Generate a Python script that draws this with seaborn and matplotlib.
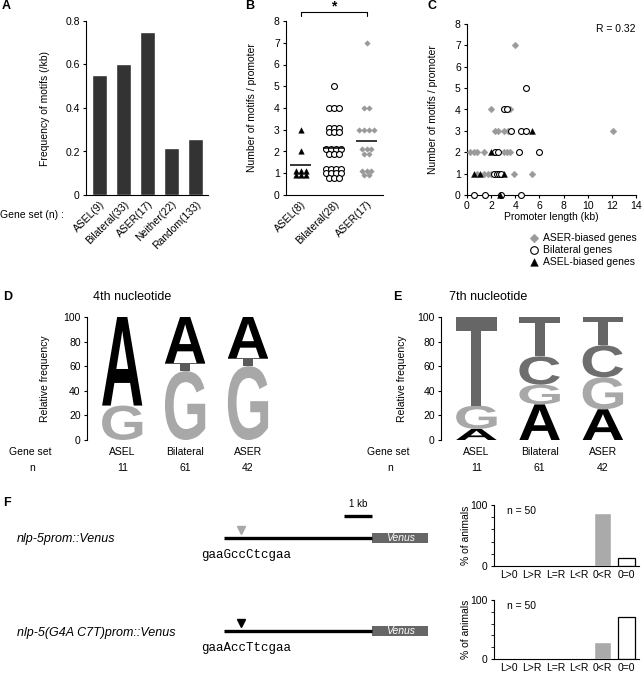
import numpy as np
import pandas as pd
import matplotlib
matplotlib.use("Agg")
import matplotlib.pyplot as plt
import seaborn as sns
from matplotlib.patches import PathPatch, Rectangle
from matplotlib.textpath import TextPath
from matplotlib.font_manager import FontProperties
from matplotlib.transforms import Affine2D, blended_transform_factory

# ---------------- data ----------------
# A: motif frequency per gene set
gene_sets_a = ["ASEL(9)", "Bilateral(33)", "ASER(17)", "Neither(22)", "Random(133)"]
motif_freq = [0.553, 0.603, 0.75, 0.215, 0.258]

# B: motifs per promoter
groups_b = ["ASEL(8)", "Bilateral(28)", "ASER(17)"]
asel_counts = [1, 1, 1, 1, 1, 1, 2, 3]
bilateral_counts = [1, 1, 1, 1, 1, 1, 1, 1, 1, 1, 1, 2, 2, 2, 2, 2, 2, 2,
                    3, 3, 3, 3, 3, 3, 4, 4, 4, 5]
aser_counts = [1, 1, 1, 1, 1, 2, 2, 2, 2, 2, 3, 3, 3, 3, 4, 4, 7]

# C: promoter length (kb) vs motifs
aser_len = [4.0, 2.0, 3.6, 2.35, 2.55, 3.1, 3.4, 12.1, 0.25, 0.55, 0.8, 1.4,
            3.05, 3.3, 3.6, 0.8, 1.4, 1.75, 2.0, 3.9, 5.4]
aser_n = [7, 4, 4, 3, 3, 3, 3, 3, 2, 2, 2, 2, 2, 2, 2, 1, 1, 1, 1, 1, 1]
bil_len = [4.85, 3.05, 3.35, 3.65, 4.45, 4.9, 2.3, 2.6, 4.3, 6.0, 2.2, 2.45,
           2.65, 2.85, 0.55, 1.5, 2.85, 4.5]
bil_n = [5, 4, 4, 3, 3, 3, 2, 2, 2, 2, 1, 1, 1, 1, 0, 0, 0, 0]
asel_len = [5.4, 2.0, 0.55, 1.1, 3.05, 2.7]
asel_n = [3, 2, 1, 1, 1, 0]

# D / E: sequence logos (relative frequency, stacked bottom -> top)
logo_sets = ["ASEL", "Bilateral", "ASER"]
logo_n = [11, 61, 42]
d_G = [28, 56, 60]
d_T = [0, 6.5, 6.5]
d_A = [72, 37.5, 33.5]
e_A = [9, 29, 25]
e_G = [19, 16, 26]
e_C = [0, 23, 26]
e_T = [72, 32, 23]

# F: reporter constructs and expression
f_categories = ["L>0", "L>R", "L=R", "L<R", "0<R", "0=0"]
wt_pct = [0, 0, 0, 0, 87, 13]
mut_pct = [0, 0, 0, 0, 28, 72]
promoter_kb = 5.3
venus_kb = 2.0
motif_pos_kb = 0.6
scale_kb = 1.0

# ---------------- style ----------------
sns.set_theme(style="ticks")
plt.rcParams["font.family"] = ["Liberation Sans", "DejaVu Sans"]
plt.rcParams.update({
    "font.size": 7.5, "axes.labelsize": 7.5, "xtick.labelsize": 7.5,
    "ytick.labelsize": 7.5, "axes.linewidth": 0.8, "axes.edgecolor": "black",
    "xtick.major.size": 2.5, "ytick.major.size": 2.5,
    "xtick.major.width": 0.8, "ytick.major.width": 0.8,
    "xtick.major.pad": 2, "ytick.major.pad": 2,
    "text.color": "black", "axes.labelcolor": "black",
    "xtick.color": "black", "ytick.color": "black",
})

W, H = 642, 677
fig = plt.figure(figsize=(W / 100, H / 100), dpi=100)


def add_ax(x0, y0, x1, y1):
    ax = fig.add_axes([x0 / W, 1 - y1 / H, (x1 - x0) / W, (y1 - y0) / H])
    ax.px = (x0, y0, x1, y1)
    return ax


def ylabel_at(ax, text, px_right):
    x0, y0, x1, y1 = ax.px
    ax.set_ylabel(text)
    ax.yaxis.set_label_coords((px_right - x0) / (x1 - x0), 0.5)


def fig_text(x, y, s, **kw):
    fig.text(x / W, 1 - y / H, s, **kw)


def stack_offsets(values, per_row=4, dx=0.15, dy=0.2):
    values = np.asarray(values)
    xo = np.zeros(len(values))
    yo = np.zeros(len(values))
    for v in np.unique(values):
        idx = np.where(values == v)[0]
        k = len(idx)
        rows = int(np.ceil(k / per_row))
        width = int(np.ceil(k / rows))
        for j, i in enumerate(idx):
            r, c = divmod(j, width)
            m = min(width, k - r * width)
            xo[i] = (c - (m - 1) / 2) * dx
            yo[i] = ((rows - 1) / 2 - r) * dy
    return xo, yo


logo_font = FontProperties(family="Liberation Sans", weight="bold")


def draw_letter(ax, letter, x, y0, w, h, color):
    tp = TextPath((0, 0), letter, size=1, prop=logo_font)
    bb = tp.get_extents()
    tr = (Affine2D().translate(-bb.x0, -bb.y0)
          .scale(w / bb.width, h / bb.height)
          .translate(x - w / 2, y0))
    ax.add_patch(PathPatch(tr.transform_path(tp), color=color, lw=0))


def draw_logo(ax, stacks, width=0.64):
    bottoms = np.zeros(len(stacks[0][1]))
    for letter, heights, color in stacks:
        for i, h in enumerate(heights):
            if h > 0:
                draw_letter(ax, letter, i, bottoms[i], width, h, color)
        bottoms += np.asarray(heights, dtype=float)


# ---------------- A ----------------
ax_a = add_ax(86, 21, 208, 195)
df_a = pd.DataFrame({"set": gene_sets_a, "freq": motif_freq})
sns.barplot(df_a, x="set", y="freq", color="#333333", saturation=1,
            width=0.62, ax=ax_a)
ax_a.set_xlim(-0.56, 4.52)
ax_a.set_ylim(0, 0.8)
ax_a.set_yticks([0, 0.2, 0.4, 0.6, 0.8])
ax_a.set_yticklabels(["0", "0.2", "0.4", "0.6", "0.8"])
ax_a.tick_params(axis="x", length=0, pad=3)
plt.setp(ax_a.get_xticklabels(), rotation=45, ha="right", rotation_mode="anchor")
ax_a.set_xlabel("")
ylabel_at(ax_a, "Frequency of motifs (/kb)", 50)
sns.despine(ax=ax_a)
fig_text(0, 215, "Gene set (n) :", va="center", ha="left")

# ---------------- B ----------------
ax_b = add_ax(286, 21, 383, 195)
b_specs = [
    (asel_counts, dict(marker="^", color="black", edgecolor="black", s=16, linewidth=0.3)),
    (bilateral_counts, dict(marker="o", color="white", edgecolor="black", s=18, linewidth=0.8)),
    (aser_counts, dict(marker="D", color="#9a9a9a", edgecolor="#9a9a9a", s=8, linewidth=0.3)),
]
for i, (vals, kw) in enumerate(b_specs):
    xo, yo = stack_offsets(vals)
    sns.scatterplot(x=i + xo, y=np.asarray(vals) + yo, ax=ax_b, clip_on=False,
                    zorder=3, **kw)
    ax_b.hlines(np.mean(vals), i - 0.32, i + 0.32, color="black", lw=1.1, zorder=4)
ax_b.set_xlim(-0.45, 2.5)
ax_b.set_ylim(0, 8)
ax_b.set_yticks(range(0, 9))
ax_b.set_xticks(range(3))
ax_b.set_xticklabels(groups_b, rotation=45, ha="right", rotation_mode="anchor")
ax_b.tick_params(axis="x", length=0, pad=3)
ylabel_at(ax_b, "Number of motifs / promoter", 257)
sns.despine(ax=ax_b)
ax_b.plot([0, 0, 2, 2], [8.23, 8.41, 8.41, 8.23], color="black", lw=0.8, clip_on=False)
ax_b.text(1, 8.66, "*", ha="center", va="center", fontsize=10, fontweight="bold")

# ---------------- C ----------------
ax_c = add_ax(467, 24, 636, 195)
sns.scatterplot(x=aser_len, y=aser_n, marker="D", color="#9a9a9a", edgecolor="#9a9a9a",
                s=12, linewidth=0.3, ax=ax_c, clip_on=False, zorder=3,
                label="ASER-biased genes")
sns.scatterplot(x=bil_len, y=bil_n, marker="o", color="white", edgecolor="black",
                s=18, linewidth=0.8, ax=ax_c, clip_on=False, zorder=3,
                label="Bilateral genes")
sns.scatterplot(x=asel_len, y=asel_n, marker="^", color="black", edgecolor="black",
                s=18, linewidth=0.3, ax=ax_c, clip_on=False, zorder=3,
                label="ASEL-biased genes")
handles, labels = ax_c.get_legend_handles_labels()
ax_c.get_legend().remove()
ax_c.set_xlim(0, 14)
ax_c.set_ylim(0, 8)
ax_c.set_xticks(range(0, 15, 2))
ax_c.set_yticks(range(0, 9))
ax_c.set_xlabel("Promoter length (kb)")
ax_c.xaxis.set_label_coords(0.5, (195 - 212) / 171)
ylabel_at(ax_c, "Number of motifs / promoter", 438)
sns.despine(ax=ax_c)
ax_c.text(1.0, 1.0, "R = 0.32", transform=ax_c.transAxes, ha="right", va="top")
fig.legend(handles, labels, loc="upper left", bbox_to_anchor=(529 / W, 1 - 233 / H),
           frameon=False, handletextpad=0.3, labelspacing=0.2, borderpad=0,
           borderaxespad=0, handlelength=1.0, markerscale=1.3, fontsize=7.5)

# ---------------- D / E ----------------
def logo_axes(ax, title_x, title, stacks, ylab_right, gs_x, n_x):
    draw_logo(ax, stacks)
    ax.set_xlim(-0.56, 2.35)
    ax.set_ylim(0, 100)
    ax.set_yticks(range(0, 101, 20))
    ax.set_xticks([])
    sns.despine(ax=ax, bottom=True)
    ylabel_at(ax, "Relative frequency", ylab_right)
    tr = blended_transform_factory(ax.transData, fig.transFigure)
    for i, (name, n) in enumerate(zip(logo_sets, logo_n)):
        ax.text(i, 1 - 452 / H, name, transform=tr, ha="center", va="center")
        ax.text(i, 1 - 468 / H, str(n), transform=tr, ha="center", va="center")
    fig_text(gs_x, 452, "Gene set", ha="left", va="center")
    fig_text(n_x, 468, "n", ha="center", va="center")
    fig_text(title_x, 297, title, ha="left", va="center", fontsize=9)


ax_d = add_ax(87, 317, 270, 440)
logo_axes(ax_d, 93, "4th nucleotide",
          [("G", d_G, "#a8a8a8"), ("T", d_T, "#5a5a5a"), ("A", d_A, "black")],
          50, 9, 32)
ax_e = add_ax(441, 317, 625, 440)
logo_axes(ax_e, 449, "7th nucleotide",
          [("A", e_A, "black"), ("G", e_G, "#a8a8a8"), ("C", e_C, "#6e6e6e"),
           ("T", e_T, "#666666")],
          407, 367, 390)

# ---------------- F: bar charts ----------------
f_colors = ["#aaaaaa"] * 5 + ["white"]
for (y0, y1), pct in [((505, 566), wt_pct), ((600, 659), mut_pct)]:
    ax = add_ax(494, y0, 639, y1)
    sns.barplot(x=f_categories, y=pct, hue=f_categories, palette=f_colors,
                saturation=1, width=0.72, legend=False, ax=ax)
    for bar in ax.containers[-1]:
        bar.set_edgecolor("black")
        bar.set_linewidth(0.9)
    ax.set_xlim(-0.62, 5.55)
    ax.set_ylim(0, 100)
    ax.set_yticks([0, 100])
    ax.set_yticks([20, 40, 60, 80], minor=True)
    ax.tick_params(axis="y", which="minor", length=2, width=0.6)
    ax.tick_params(axis="x", length=0, pad=3)
    ylabel_at(ax, "% of animals", 471)
    ax.text(0.09, 0.99, "n = 50", transform=ax.transAxes, ha="left", va="top")
    sns.despine(ax=ax)

# ---------------- F: constructs ----------------
ax_s = add_ax(200, 495, 440, 665)
ax_s.set_xlim(-24 / 28, 216 / 28)
ax_s.set_ylim(-0.366, 1.462)
ax_s.axis("off")
constructs = [
    (1, "#a8a8a8", "gaaGccCtcgaa", "nlp-5prom::Venus", 539),
    (0, "black", "gaaAccTtcgaa", "nlp-5(G4A C7T)prom::Venus", 633),
]
for row, tri_color, seq, name, name_y in constructs:
    ax_s.hlines(row, 0, promoter_kb, color="black", lw=2.4)
    ax_s.add_patch(Rectangle((promoter_kb, row - 0.055), venus_kb, 0.11,
                             color="#666666", lw=0))
    ax_s.text(promoter_kb + venus_kb / 2, row, "Venus", color="white",
              style="italic", ha="center", va="center", fontsize=7.5)
    ax_s.plot(motif_pos_kb, row + 0.085, marker="v", ms=6, color=tri_color,
              linestyle="none")
    ax_s.text(-0.8, row - 0.185, seq, family=["Liberation Mono", "DejaVu Sans Mono"],
              fontsize=9, ha="left", va="center")
    fig_text(17, name_y, name, style="italic", fontsize=9, ha="left", va="center")
ax_s.hlines(1.237, promoter_kb - scale_kb, promoter_kb, color="black", lw=2.4)
ax_s.text(promoter_kb - scale_kb / 2, 1.36, "1 kb", ha="center", va="center", fontsize=7)

# ---------------- panel letters ----------------
for letter, x, y in [("A", 2, 6), ("B", 245, 6), ("C", 428, 6),
                     ("D", 3, 297), ("E", 393, 297), ("F", 3, 503)]:
    fig_text(x, y, letter, fontweight="bold", fontsize=9, ha="left", va="center")

fig.savefig("out.png", dpi=100)
